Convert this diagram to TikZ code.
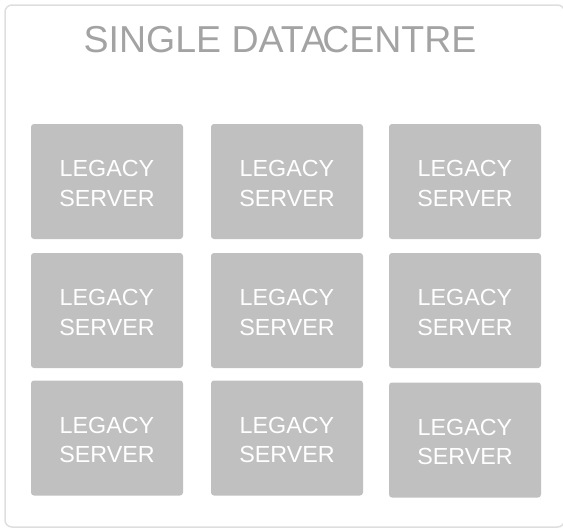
\documentclass[tikz,border=0pt]{standalone}
\usepackage{fontspec}
\setmainfont{Liberation Sans}
\definecolor{framegray}{HTML}{DEDEDE}
\definecolor{boxgray}{HTML}{C0C0C0}
\definecolor{titlegray}{HTML}{A3A3A3}
\tikzset{
  frame/.style={draw=framegray, line width=1.5pt, rounded corners=7pt},
  server/.style={fill=boxgray, draw=none, rounded corners=3pt, minimum width=152pt, minimum height=115pt,
    inner sep=0pt},
  servertext/.style={inner sep=0pt, text=white, align=center, font=\fontsize{23.3pt}{29.5pt}\selectfont},
  titletext/.style={text=titlegray, font=\fontsize{37.5pt}{42pt}\selectfont, inner sep=0pt, anchor=base}
}
\newcommand{\legacy}[3]{%
  \node[server] (#1) at (#2,#3) {};
  \node[servertext] (#1t) at ([yshift=-1.8pt]#1.center) {LEGACY\\SERVER};}
\begin{document}
\begin{tikzpicture}[x=1pt,y=-1pt]
\useasboundingbox (0,0) rectangle (563,528);
\draw[frame] (5,5) rectangle (564.5,527);
\node[titletext] (title) at (280,52.5) {SINGLE DATA\hspace{-0.1em}CENTRE};
\legacy{s11}{107}{181.5}
\legacy{s12}{287}{181.5}
\legacy{s13}{465}{181.5}
\legacy{s21}{107}{310.5}
\legacy{s22}{287}{310.5}
\legacy{s23}{465}{310.5}
\legacy{s31}{107}{438}
\legacy{s32}{287}{438}
\legacy{s33}{465}{440}
\end{tikzpicture}
\end{document}
